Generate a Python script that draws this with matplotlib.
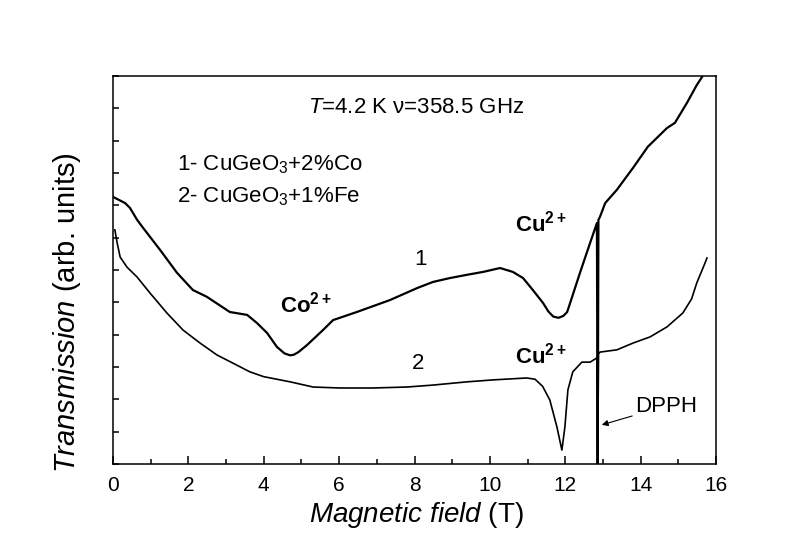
import matplotlib
matplotlib.use("Agg")
import matplotlib.pyplot as plt
from matplotlib.ticker import MultipleLocator, NullFormatter

plt.rcParams['font.family'] = ['Liberation Sans', 'DejaVu Sans']
plt.rcParams['mathtext.fontset'] = 'custom'
plt.rcParams['mathtext.rm'] = 'Liberation Sans'
plt.rcParams['mathtext.it'] = 'Liberation Sans:italic'
plt.rcParams['mathtext.bf'] = 'Liberation Sans:bold'

# curve 1: CuGeO3 + 2% Co (field in T, transmission in arb. units)
field_1 = [0.00, 0.32, 0.45, 0.64, 0.80, 1.25, 1.70, 2.12, 2.49, 3.10, 3.56, 3.82,
           4.09, 4.35, 4.55, 4.70, 4.80, 4.92, 5.15, 5.57, 5.84, 6.47, 7.35, 8.07,
           8.49, 8.94, 9.39, 9.82, 10.27, 10.61, 10.88, 11.14, 11.41, 11.55, 11.68,
           11.82, 11.95, 12.05, 12.13, 12.39, 12.66, 12.84, 12.86, 12.88, 12.92,
           13.06, 13.37, 13.80, 14.19, 14.70, 14.91, 15.23, 15.49, 15.63, 15.73]
trans_1 = [8.26, 8.07, 7.92, 7.55, 7.30, 6.62, 5.91, 5.38, 5.17, 4.70, 4.61, 4.36,
           4.05, 3.62, 3.42, 3.36, 3.38, 3.46, 3.68, 4.14, 4.45, 4.70, 5.07, 5.44,
           5.63, 5.75, 5.85, 5.94, 6.06, 5.94, 5.75, 5.38, 4.98, 4.72, 4.56,
           4.52, 4.58, 4.70, 4.98, 5.91, 6.84, 7.45, -0.5, 7.55, 7.64,
           8.07, 8.48, 9.16, 9.81, 10.39, 10.55, 11.17, 11.72, 11.97, 12.25]

# curve 2: CuGeO3 + 1% Fe
field_2 = [0.05, 0.11, 0.19, 0.37, 0.64, 0.98, 1.43, 1.86, 2.31, 2.76, 3.18, 3.63,
           4.00, 4.70, 5.31, 6.02, 6.90, 7.80, 8.49, 9.39, 10.08, 10.98, 11.20, 11.40,
           11.59, 11.78, 11.91, 11.99, 12.07, 12.20, 12.44, 12.66, 12.84, 12.86, 12.88,
           12.92, 13.37, 13.80, 14.25, 14.70, 15.12, 15.35, 15.49, 15.71, 15.76]
trans_2 = [7.24, 6.84, 6.40, 6.09, 5.78, 5.29, 4.67, 4.14, 3.74, 3.37, 3.12, 2.85,
           2.70, 2.54, 2.38, 2.35, 2.35, 2.38, 2.44, 2.54, 2.60, 2.66, 2.62, 2.40,
           1.98, 1.14, 0.43, 1.14, 2.29, 2.85, 3.15, 3.15, 3.28, -0.5, 3.40,
           3.46, 3.53, 3.74, 3.93, 4.24, 4.67, 5.10, 5.60, 6.22, 6.37]

fig = plt.figure(figsize=(7.89, 5.5), dpi=100)
ax = fig.add_axes([0.1432, 0.1564, 0.7643, 0.7055])

ax.plot(field_1, trans_1, color='black', lw=1.6)
ax.plot(field_2, trans_2, color='black', lw=1.2)

ax.set_xlim(0, 16)
ax.set_ylim(0, 12)
ax.xaxis.set_major_locator(MultipleLocator(2))
ax.xaxis.set_minor_locator(MultipleLocator(1))
ax.yaxis.set_major_locator(MultipleLocator(1))
ax.yaxis.set_major_formatter(NullFormatter())
ax.tick_params(axis='x', which='major', direction='in', length=6, width=1.1,
               labelsize=15, pad=9, top=False)
ax.tick_params(axis='x', which='minor', direction='in', length=3.5, width=1.1, top=False)
ax.tick_params(axis='y', which='major', direction='in', length=4.5, width=1.1, right=False)
for sp in ax.spines.values():
    sp.set_linewidth(1.1)

ax.set_xlabel(r'$Magnetic\ field$ (T)', fontsize=20, va='top')
ax.xaxis.set_label_coords(0.503, -0.093)
ax.set_ylabel(r'$Transmission$ (arb. units)', fontsize=21)
ax.yaxis.set_label_coords(-0.05, 0.39)

ax.text(5.17, 10.86, r'$T$=4.2 K ν=358.5 GHz', fontsize=16, va='baseline')
ax.text(1.70, 9.09, r'1- CuGeO$_3$+2%Co', fontsize=16, va='baseline')
ax.text(1.70, 8.10, r'2- CuGeO$_3$+1%Fe', fontsize=16, va='baseline')
ax.text(4.43, 4.67, r'$\mathbf{Co}^{\mathbf{2+}}$', fontsize=16, va='baseline')
ax.text(10.67, 7.18, r'$\mathbf{Cu}^{\mathbf{2+}}$', fontsize=16, va='baseline')
ax.text(10.67, 3.12, r'$\mathbf{Cu}^{\mathbf{2+}}$', fontsize=16, va='baseline')
ax.text(8.15, 6.31, '1', fontsize=16, ha='center', va='center')
ax.text(8.09, 3.12, '2', fontsize=16, ha='center', va='center')
ax.annotate('DPPH', xy=(12.97, 1.21), xytext=(13.85, 1.79), fontsize=16, va='center',
            arrowprops=dict(arrowstyle='-|>', color='black', lw=0.8,
                            mutation_scale=9, shrinkA=0, shrinkB=0))

fig.savefig('out.png', dpi=100)
